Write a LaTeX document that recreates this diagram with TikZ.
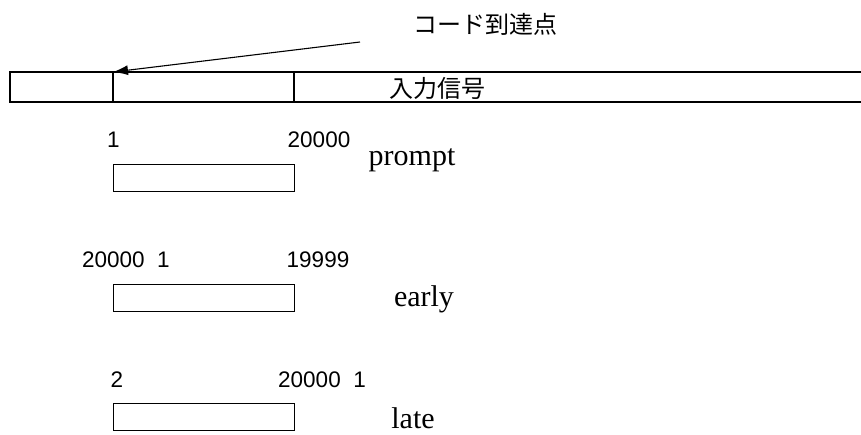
\documentclass[tikz,border=0pt]{standalone}
\usepackage{fontspec}
\setmainfont{Liberation Serif}
\newfontfamily\numfont{Liberation Sans}
\newfontfamily\jpfont{Noto Sans CJK JP}
\usetikzlibrary{arrows.meta}
\begin{document}
\begin{tikzpicture}[x=1pt,y=-1pt,
  line width=1.1pt,
  num/.style={font=\numfont\fontsize{22.5}{24}\selectfont, inner sep=0pt},
  lab/.style={font=\fontsize{30}{32}\selectfont, inner sep=0pt},
  jp/.style={font=\jpfont\fontsize{24}{28}\selectfont, inner sep=0pt},
  seg/.style={draw, minimum width=181pt, minimum height=27pt, inner sep=0pt, anchor=north west}]
\useasboundingbox (0,0) rectangle (861,434);
% input signal bar
\draw (861,72) -- (10,72) -- (10,102) -- (861,102);
\draw (113,72) -- (113,102);
\draw (294,72) -- (294,102);
\coordinate (hit) at (113,72);
\coordinate (tail) at (360,42);
\node[jp] (sig) at (437,88) {入力信号};
\node[jp] (code) at (485,24) {コード到達点};
\draw[-{Latex[length=15pt,width=10pt]}] (tail) -- (hit);
% prompt
\node[seg] (pbox) at (113,164) {};
\node[num] (p1) at (113.5,140) {1};
\node[num] (p2) at (319,140) {20000};
\node[lab] (pl) at (412,160) {prompt};
% early
\node[seg] (ebox) at (113,284) {};
\node[num] (e1) at (126,260) {20000\ \ 1};
\node[num] (e2) at (318,260) {19999};
\node[lab] (el) at (424,299) {early};
% late
\node[seg] (lbox) at (113,403) {};
\node[num] (l1) at (117,380) {2};
\node[num] (l2) at (322,380) {20000\ \ 1};
\node[lab] (ll) at (413,418) {late};
\end{tikzpicture}
\end{document}
